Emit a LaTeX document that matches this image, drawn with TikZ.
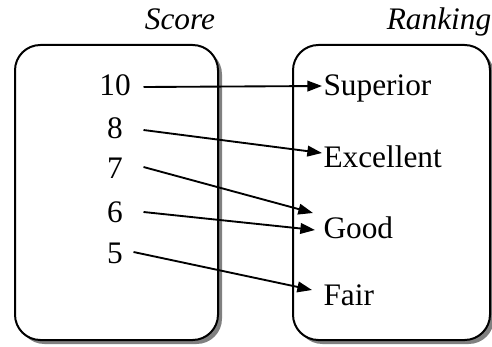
\documentclass[tikz,border=0pt]{standalone}
\usepackage{fontspec}
\setmainfont{Liberation Serif}
\usetikzlibrary{arrows.meta,calc}

\tikzset{every picture/.style={line width=0.75pt}}
\tikzset{
  panel/.style={draw=black, line width=1.5pt, fill=white, rounded corners=19pt},
  panelshadow/.style={fill={rgb, 255:red, 128; green, 128; blue, 128}, rounded corners=19pt},
  score/.style={anchor=base, inner sep=0.75pt, minimum width=42pt, font=\fontsize{23.5}{28}\selectfont},
  rank/.style={anchor=base west, inner sep=0.75pt, font=\fontsize{23.5}{28}\selectfont},
  title/.style={anchor=base, inner sep=0.75pt, font=\fontsize{23.5}{28}\selectfont\itshape},
  link/.style={line width=1.4pt, -{Triangle[length=11pt,width=8pt]}}
}

\begin{document}
\begin{tikzpicture}[x=0.75pt,y=0.75pt,yscale=-1,xscale=1]
\useasboundingbox (0,0) rectangle (492,346);

%Shape: Rounded Rect [shadow] 
\path [panelshadow] (19,49) rectangle (222,344) ;
\path [panelshadow] (297,49) rectangle (494,344) ;
%Shape: Rounded Rect [Score] 
\draw [panel] (15,45) rectangle (218,340) ;
%Shape: Rounded Rect [Ranking] 
\draw [panel] (293,45) rectangle (490,340) ;

% Text Node
\draw (180,30) node [title] (tscore) {Score};
% Text Node
\draw (439,30) node [title] (trank) {Ranking};

% Text Node
\draw (115,95) node [score] (n10) {10};
% Text Node
\draw (115,138) node [score] (n8) {8};
% Text Node
\draw (115,178) node [score] (n7) {7};
% Text Node
\draw (115,222) node [score] (n6) {6};
% Text Node
\draw (115,263) node [score] (n5) {5};

% Text Node
\draw (322,95) node [rank] (sup) {Superior};
% Text Node
\draw (322,167) node [rank] (exc) {Excellent};
% Text Node
\draw (322,238) node [rank] (good) {Good};
% Text Node
\draw (322,305) node [rank] (fair) {Fair};

%Straight Lines 
\draw [link] ($(n10.base east)+(0,-8)$) -- ($(sup.base west)+(0,-9)$) ;
\draw [link] ($(n8.base east)+(0,-8)$) -- ($(exc.base west)+(0,-14)$) ;
\draw [link] ($(n7.base east)+(0,-11)$) -- ($(good.base west)+(-9,-25)$) ;
\draw [link] ($(n6.base east)+(0,-10)$) -- ($(good.base west)+(-7,-8)$) ;
\draw [link] ($(n5.base east)+(-10,-11)$) -- ($(fair.base west)+(-10,-15)$) ;

\end{tikzpicture}
\end{document}
